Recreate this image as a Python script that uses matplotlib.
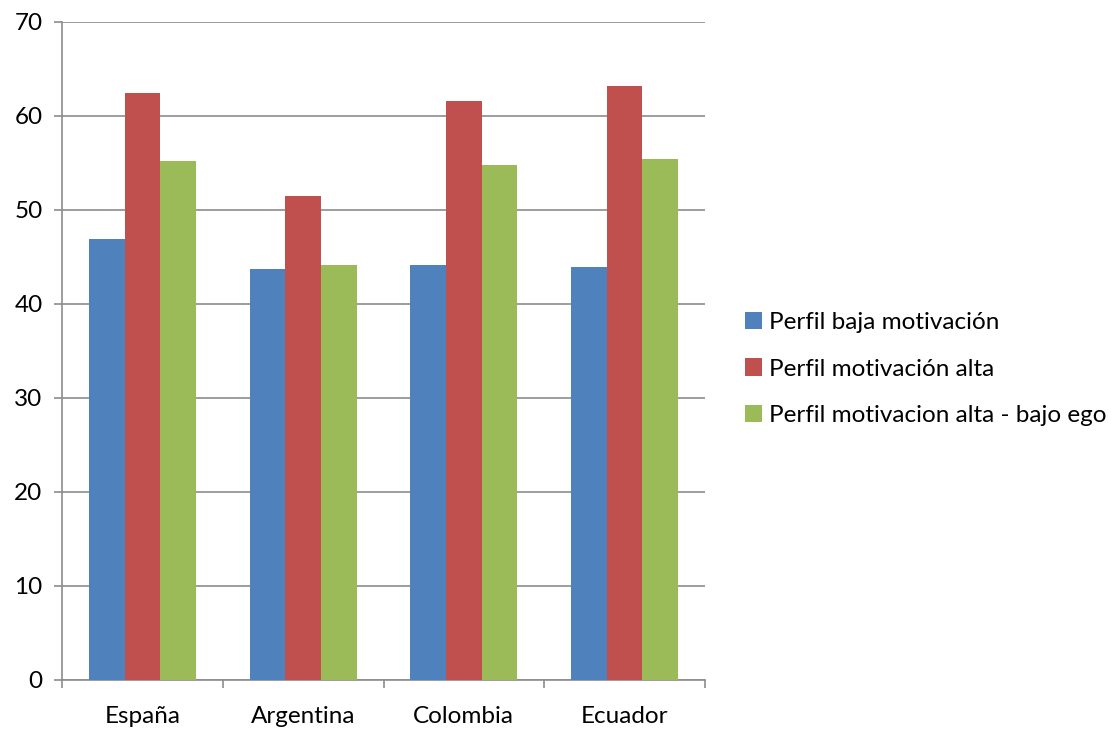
import matplotlib
matplotlib.use("Agg")
import matplotlib.pyplot as plt
import numpy as np

categories = ["España", "Argentina", "Colombia", "Ecuador"]
series_names = ["Perfil baja motivación", "Perfil motivación alta", "Perfil motivacion alta - bajo ego"]
baja = [46.9, 43.7, 44.1, 43.9]
alta = [62.4, 51.5, 61.6, 63.2]
alta_bajo_ego = [55.2, 44.2, 54.8, 55.4]
colors = ["#4F81BD", "#C0504D", "#9BBB59"]

plt.rcParams['font.family'] = ['Lato', 'DejaVu Sans']
FS = 17.5

fig = plt.figure(figsize=(11.2, 7.29), dpi=100)
ax = fig.add_axes([62/1120, 1-680/729, 643/1120, 658/729])

x = np.arange(len(categories))
w = 1/4.5
for i, (vals, name, c) in enumerate(zip([baja, alta, alta_bajo_ego], series_names, colors)):
    ax.bar(x + (i-1)*w, vals, width=w, color=c, label=name, zorder=3, linewidth=0)

ax.set_xlim(-0.5, len(categories)-0.5)
ax.set_ylim(0, 70)
ax.set_yticks(range(0, 71, 10))
ax.yaxis.grid(True, color="#8C8C8C", linewidth=1.2, zorder=0)
ax.set_xticks(np.arange(-0.5, len(categories), 1))
ax.set_xticklabels([])
ax.set_xticks(x, minor=True)
ax.set_xticklabels(categories, minor=True)
ax.tick_params(axis='x', which='minor', length=0, pad=19, labelsize=FS)
ax.tick_params(axis='x', which='major', length=6, color="#8C8C8C", width=1.2)
ax.tick_params(axis='y', length=6, color="#8C8C8C", width=1.2, labelsize=FS, pad=8)
for s in ["top", "right"]:
    ax.spines[s].set_visible(False)
for s in ["left", "bottom"]:
    ax.spines[s].set_color("#8C8C8C")
    ax.spines[s].set_linewidth(1.2)

ax.legend(loc="center left", bbox_to_anchor=(745/1120, 1-369/729), bbox_transform=fig.transFigure,
          frameon=False, fontsize=FS, borderpad=0, borderaxespad=0,
          handlelength=0.7, handleheight=0.7, handletextpad=0.3, labelspacing=1.05)

fig.savefig("out.png", dpi=100)
